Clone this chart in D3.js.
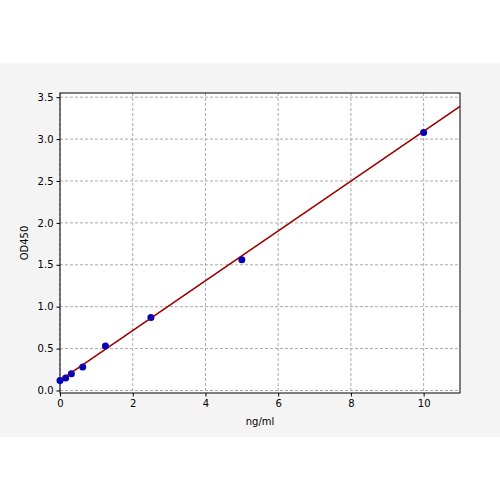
<!DOCTYPE html><html><head><script src="https://d3js.org/d3.v7.min.js"></script>
<style>body{margin:0;background:#fff}</style></head><body><svg id="c" width="500" height="500"></svg>
<script>
const xs=[0,0.156,0.313,0.625,1.25,2.5,5,10];
const ys=[0.12,0.15,0.2,0.28,0.53,0.87,1.56,3.08];
const fitX=[0,11];
const fitY=[0.12,3.39];
const xTicks=[0,2,4,6,8,10];
const yTicks=[0,0.5,1,1.5,2,2.5,3,3.5];
const svg=d3.select("#c");
svg.append("rect").attr("x",0).attr("y",63).attr("width",500).attr("height",374).attr("fill","#f4f4f4");
const L=60,R=460,T=93,B=393;
const x=d3.scaleLinear().domain([0,11]).range([L,R]);
const y=d3.scaleLinear().domain([-0.03,3.55]).range([B,T]);
svg.append("rect").attr("x",L).attr("y",T).attr("width",R-L).attr("height",B-T).attr("fill","#fff");
const g=svg.append("g");
xTicks.forEach(t=>g.append("line").attr("x1",x(t)).attr("x2",x(t)).attr("y1",T).attr("y2",B).attr("stroke","#aaa").attr("stroke-dasharray","3,2"));
yTicks.forEach(t=>g.append("line").attr("y1",y(t)).attr("y2",y(t)).attr("x1",L).attr("x2",R).attr("stroke","#aaa").attr("stroke-dasharray","3,2"));
const f="DejaVu Sans";
svg.append("g").attr("transform",`translate(0,${B})`).call(d3.axisBottom(x).tickValues(xTicks).tickFormat(d3.format("d")).tickSize(3.5)).call(a=>{a.selectAll("text").attr("font-family",f).attr("font-size",10).attr("fill","#000");a.select(".domain").remove();});
svg.append("g").attr("transform",`translate(${L},0)`).call(d3.axisLeft(y).tickValues(yTicks).tickFormat(d3.format(".1f")).tickSize(3.5)).call(a=>{a.selectAll("text").attr("font-family",f).attr("font-size",10).attr("fill","#000");a.select(".domain").remove();});
svg.append("rect").attr("x",L).attr("y",T).attr("width",R-L).attr("height",B-T).attr("fill","none").attr("stroke","#000").attr("stroke-width",1);
svg.append("path").datum(fitX.map((d,i)=>[d,fitY[i]])).attr("d",d3.line().x(d=>x(d[0])).y(d=>y(d[1]))).attr("stroke","#a00000").attr("stroke-width",1.5).attr("fill","none");
svg.selectAll("circle.p").data(xs).join("circle").attr("cx",d=>x(d)).attr("cy",(d,i)=>y(ys[i])).attr("r",3.5).attr("fill","#0000c0");
svg.append("path").datum(fitX.map((d,i)=>[d,fitY[i]])).attr("d",d3.line().x(d=>x(d[0])).y(d=>y(d[1]))).attr("stroke","#a00000").attr("stroke-width",1).attr("fill","none").attr("opacity",0.6);
svg.append("text").attr("x",(L+R)/2).attr("y",425).attr("text-anchor","middle").attr("font-family",f).attr("font-size",10).text("ng/ml");
svg.append("text").attr("transform",`translate(28,${(T+B)/2}) rotate(-90)`).attr("text-anchor","middle").attr("font-family",f).attr("font-size",10).text("OD450");
</script></body></html>
